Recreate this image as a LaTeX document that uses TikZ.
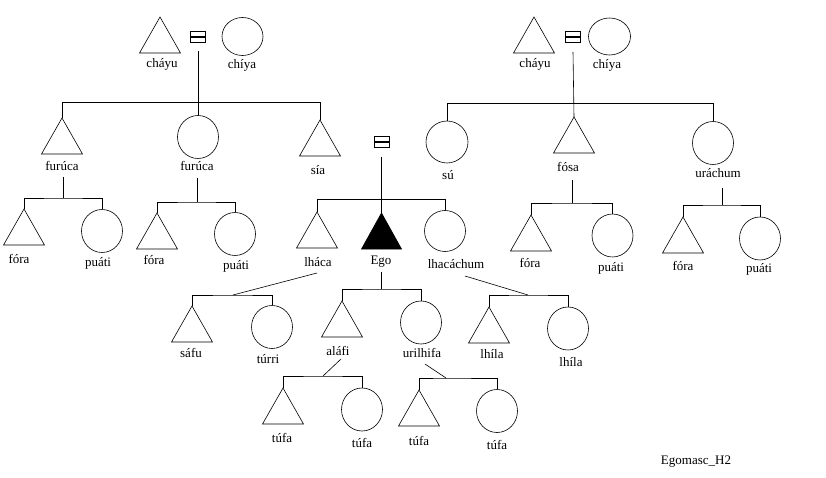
\documentclass[tikz,border=0pt]{standalone}
\usepackage{fontspec}
\setmainfont{Liberation Serif}
\usetikzlibrary{shapes.geometric}
\tikzset{
  ln/.style={line width=0.6pt, draw=black},
  fem/.style={ellipse, draw=black, line width=0.6pt, inner sep=0pt, minimum width=41pt, minimum height=43pt},
  femtop/.style={fem, minimum height=38pt},
  lbl/.style={font=\fontsize{13}{15}\selectfont, inner sep=0pt},
  male/.pic={\coordinate (-top) at (0,0); \draw[line width=0.6pt] (0,0) -- (-20.5,36) -- (20.5,36) -- cycle;},
  egom/.pic={\coordinate (-top) at (0,0); \filldraw[line width=0.6pt] (0,0) -- (-20,36) -- (20,36) -- cycle;},
  marr/.pic={\draw[line width=0.45pt] (-7.5,-5.5) rectangle (7.5,-0.6) (-7.5,0.6) rectangle (7.5,5.5); \coordinate (-bot) at (0,15);},
}
\begin{document}
\begin{tikzpicture}[x=1pt,y=-1pt]
\useasboundingbox[fill=white] (0,0) rectangle (826,478);

% ---------- top-left family ----------
\pic (mA) at (160,17) {male};
\node[lbl] (lmA) at (162,64) {cháyu};
\pic (eqA) at (198,36.5) {marr};
\node[femtop] (fA) at (242.5,36.5) {};
\node[lbl] (lfA) at (242,65) {chíya};
\pic (fur) at (62,118) {male};
\node[lbl] (lfur) at (62,166) {furúca};
\node[fem] (furc) at (198,137) {};
\node[lbl] (lfurc) at (197,166) {furúca};
\pic (sia) at (320,120) {male};
\node[lbl] (lsia) at (318,170) {sía};
\draw[ln] (eqA-bot) -- (furc.north);
\draw[ln] (fur-top) -- ++(0,-16) -| (sia-top);

% children of furúca (m)
\coordinate (s1) at (63,177);
\coordinate (j1) at (63,198);
\pic (fo1) at (24,209) {male};
\node[lbl] (lfo1) at (19,259) {fóra};
\node[fem] (pu1) at (102,231) {};
\node[lbl] (lpu1) at (98,263) {puáti};
\draw[ln] (s1) -- (j1);
\draw[ln] (fo1-top) |- (j1) -| (pu1.north);

% children of furúca (f)
\coordinate (s2) at (197,178);
\coordinate (j2) at (197,202);
\pic (fo2) at (157,213) {male};
\node[lbl] (lfo2) at (154,260) {fóra};
\node[fem] (pu2) at (235,234) {};
\node[lbl] (lpu2) at (236,266) {puáti};
\draw[ln] (s2) -- (j2);
\draw[ln] (fo2-top) |- (j2) -| (pu2.north);

% ---------- top-right family ----------
\pic (mB) at (534,17) {male};
\node[lbl] (lmB) at (535,64) {cháyu};
\pic (eqB) at (573,37) {marr};
\node[femtop, minimum width=42pt, minimum height=37pt] (fB) at (609.5,36.5) {};
\node[lbl] (lfB) at (607,65) {chíya};
\node[fem, minimum height=42pt, minimum width=42pt] (su) at (447,142) {};
\node[lbl] (lsu) at (448,175) {sú};
\pic (fosa) at (574,117) {male};
\node[lbl] (lfosa) at (568,167) {fósa};
\node[fem] (ura) at (713,143) {};
\node[lbl] (lura) at (718,173) {uráchum};
\draw[ln] (eqB-bot) -- (fosa-top);
\draw[ln] (su.north) -- ++(0,-17) -| (ura.north);

% children of fósa
\coordinate (s3) at (572,180);
\coordinate (j3) at (572,203);
\pic (fo3) at (531,215) {male};
\node[lbl] (lfo3) at (530,263) {fóra};
\node[fem] (pu3) at (612.5,235.5) {};
\node[lbl] (lpu3) at (611,268) {puáti};
\draw[ln] (s3) -- (j3);
\draw[ln] (fo3-top) |- (j3) -| (pu3.north);

% children of uráchum
\coordinate (s4) at (722,188);
\coordinate (j4) at (722,205);
\pic (fo4) at (683,217) {male};
\node[lbl] (lfo4) at (683,266) {fóra};
\node[fem] (pu4) at (760,238.5) {};
\node[lbl] (lpu4) at (759,269) {puáti};
\draw[ln] (s4) -- (j4);
\draw[ln] (fo4-top) |- (j4) -| (pu4.north);

% ---------- Ego's sibling group ----------
\pic (eqC) at (381.5,142) {marr};
\pic (lhaca) at (317,212) {male};
\node[lbl] (llhaca) at (318,262) {lháca};
\pic (ego) at (381.5,213) {egom};
\node[lbl] (lego) at (381,262) {Ego};
\node[fem, minimum height=41pt] (lhc) at (445,231) {};
\node[lbl] (llhc) at (456,264) {lhacáchum};
\draw[ln] (eqC-bot) -- (ego-top);
\draw[ln] (lhaca-top) -- ++(0,-13) -| (lhc.north);

% children of Ego
\coordinate (s5) at (381.5,272);
\coordinate (j5) at (381.5,289);
\pic (alafi) at (342,301) {male};
\node[lbl] (lalafi) at (338,351) {aláfi};
\node[fem] (uril) at (421,322.5) {};
\node[lbl] (luril) at (422,353) {urilhifa};
\draw[ln] (s5) -- (j5);
\draw[ln] (alafi-top) |- (j5) -| (uril.north);

% children of lháca
\coordinate (s6) at (317,273);
\coordinate (j6) at (233,295);
\pic (safu) at (192,306) {male};
\node[lbl] (lsafu) at (191,353) {sáfu};
\node[fem] (turri) at (272,327) {};
\node[lbl] (lturri) at (268,359) {túrri};
\draw[ln] (s6) -- (j6);
\draw[ln] (safu-top) |- (j6) -| (turri.north);

% children of lhacáchum
\coordinate (s7) at (465,276);
\coordinate (j7) at (528,295);
\pic (lhila) at (489,307) {male};
\node[lbl] (llhila) at (492,354) {lhíla};
\node[fem] (lhilaf) at (568,328.5) {};
\node[lbl] (llhilaf) at (571,362) {lhíla};
\draw[ln] (s7) -- (j7);
\draw[ln] (lhila-top) |- (j7) -| (lhilaf.north);

% children of aláfi
\coordinate (s8) at (341,359);
\coordinate (j8) at (323,376);
\pic (tufa1) at (283,388) {male};
\node[lbl] (ltufa1) at (282,438) {túfa};
\node[fem] (tufa2) at (362,409.5) {};
\node[lbl] (ltufa2) at (362,443) {túfa};
\draw[ln] (s8) -- (j8);
\draw[ln] (tufa1-top) |- (j8) -| (tufa2.north);

% children of urilhifa
\coordinate (s9) at (425,364);
\coordinate (j9) at (446,378);
\pic (tufa3) at (419,390) {male};
\node[lbl] (ltufa3) at (419,441) {túfa};
\node[fem] (tufa4) at (497,411) {};
\node[lbl] (ltufa4) at (497,445) {túfa};
\draw[ln] (s9) -- (j9);
\draw[ln] (tufa3-top) |- (j9) -| (tufa4.north);

\node[lbl] (title) at (696,462) {Egomasc\_H2};
\end{tikzpicture}
\end{document}
